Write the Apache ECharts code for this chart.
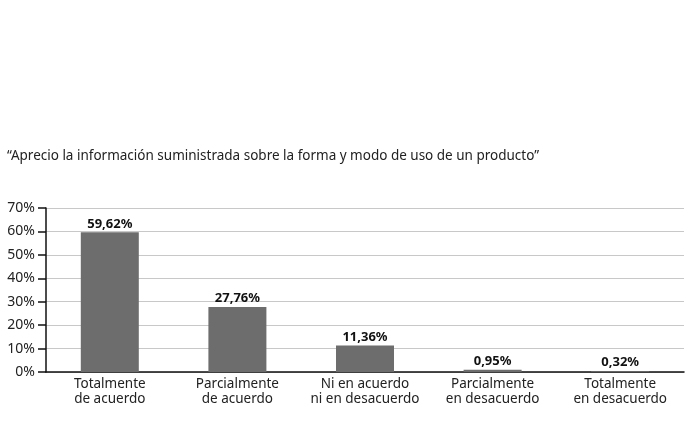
<!DOCTYPE html>
<html>
<head>
<meta charset="utf-8">
<script src="https://cdn.jsdelivr.net/npm/echarts@6/dist/echarts.min.js"></script>
<style>
  html, body { margin: 0; padding: 0; background: #fff; }
  #chart { width: 685px; height: 432px; }
</style>
</head>
<body>
<div id="chart"></div>
<script>
var categories = ['Totalmente\nde acuerdo', 'Parcialmente\nde acuerdo', 'Ni en acuerdo\nni en desacuerdo', 'Parcialmente\nen desacuerdo', 'Totalmente\nen desacuerdo'];
var values = [59.62, 27.76, 11.36, 0.95, 0.32];
var titleText = '\u201cAprecio la información suministrada sobre la forma y modo de uso de un producto\u201d';

var myChart = echarts.init(document.getElementById('chart'));
var font = 'Noto Sans';

option = {
    backgroundColor: '#fff',
    title: {
        text: titleText,
        left: 2,
        top: 144,
        textStyle: {
            fontFamily: font,
            fontSize: 13.5,
            fontWeight: 'normal',
            color: '#222'
        }
    },
    grid: {
        left: 46,
        right: 1,
        top: 208,
        bottom: 60
    },
    xAxis: {
        type: 'category',
        data: categories,
        axisLine: { lineStyle: { color: '#111', width: 1.5 } },
        axisTick: { length: 10, lineStyle: { color: '#111', width: 1.5 } },
        axisLabel: {
            interval: 0,
            fontFamily: font,
            fontSize: 13.5,
            color: '#222',
            lineHeight: 15,
            margin: 5
        }
    },
    yAxis: {
        type: 'value',
        min: 0,
        max: 70,
        interval: 10,
        axisLine: { show: true, lineStyle: { color: '#111', width: 1.5 } },
        axisTick: { show: true, length: 8, lineStyle: { color: '#111', width: 1.5 } },
        axisLabel: {
            fontFamily: font,
            fontSize: 14,
            color: '#222',
            margin: 11,
            formatter: '{value}%'
        },
        splitLine: { lineStyle: { color: '#c8c8c8', width: 1 } }
    },
    series: [{
        type: 'bar',
        data: values,
        barWidth: 58,
        itemStyle: { color: '#6d6d6d' },
        label: {
            show: true,
            position: 'top',
            distance: 2,
            fontFamily: font,
            fontSize: 13,
            fontWeight: 'bold',
            color: '#111',
            formatter: function (p) {
                return p.value.toFixed(2).replace('.', ',') + '%';
            }
        }
    }]
};
myChart.setOption(option);
</script>
</body>
</html>
